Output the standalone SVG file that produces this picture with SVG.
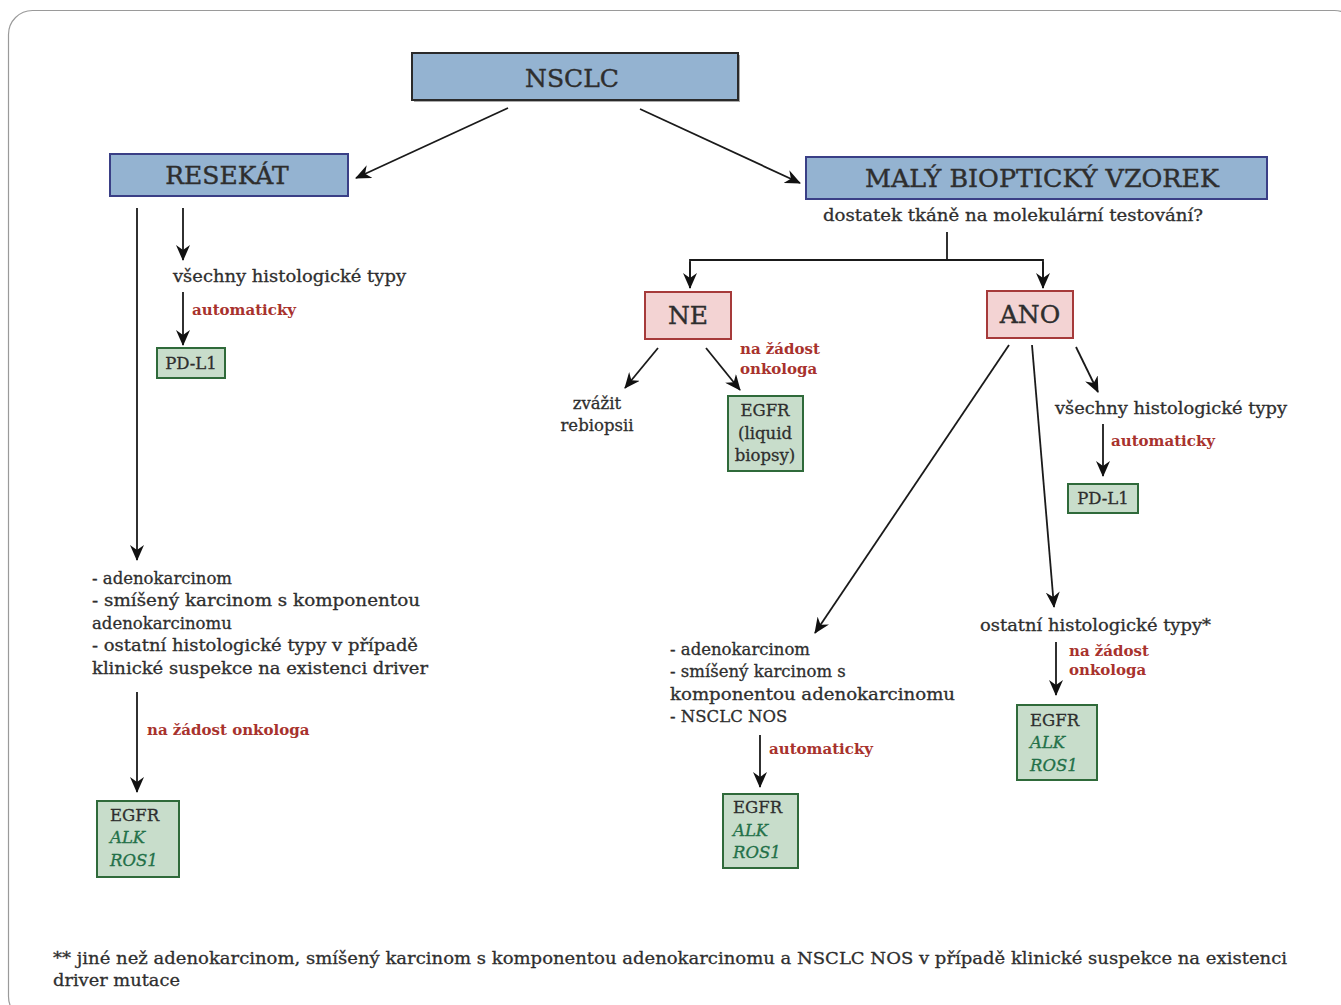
<svg xmlns="http://www.w3.org/2000/svg" width="1341" height="1005" viewBox="0 0 1341 1005">
<style>
text{font-family:"DejaVu Serif","Liberation Serif",serif;fill:#2e2e2e}
.t{font-size:16.5px;stroke:#2e2e2e;stroke-width:0.3}
.red{font-size:15px;fill:#a8322d;font-weight:bold}
.blue{fill:#94b3d1;stroke:#3a3f86;stroke-width:2}
.pink{fill:#f3d3d3;stroke:#a63a3a;stroke-width:2}
.green{fill:#c8ddcb;stroke:#2f6a3a;stroke-width:2}
.big{font-size:25px;stroke:#2e2e2e;stroke-width:0.4}
.gi{font-style:italic;fill:#237048;stroke:#237048}
.c line,.c path{stroke:#1a1a1a;stroke-width:1.8;fill:none}
</style>
<defs>
<marker id="ah" viewBox="0 0 16 14" refX="15" refY="7" markerWidth="16" markerHeight="14" markerUnits="userSpaceOnUse" orient="auto">
<path d="M0,0 L16,7 L0,14 L5,7 z" fill="#111"/>
</marker>
</defs>
<rect x="8.5" y="10.5" width="1350" height="1010" rx="24" fill="#fff" stroke="#9a9a9a" stroke-width="1.2"/>

<g class="c">
<line x1="508" y1="108" x2="356" y2="178" marker-end="url(#ah)"/>
<line x1="640" y1="109" x2="800" y2="183" marker-end="url(#ah)"/>
<line x1="137" y1="208" x2="137" y2="560" marker-end="url(#ah)"/>
<line x1="183" y1="208" x2="183" y2="260" marker-end="url(#ah)"/>
<line x1="183" y1="292" x2="183" y2="345" marker-end="url(#ah)"/>
<line x1="137" y1="692" x2="137" y2="792" marker-end="url(#ah)"/>
<line x1="947" y1="232" x2="947" y2="260"/>
<path d="M690,288 V260 H1043 V288"/>
<line x1="690" y1="262" x2="690" y2="288" marker-end="url(#ah)"/>
<line x1="1043" y1="262" x2="1043" y2="288" marker-end="url(#ah)"/>
<line x1="658" y1="348" x2="625" y2="388" marker-end="url(#ah)"/>
<line x1="706" y1="348" x2="740" y2="390" marker-end="url(#ah)"/>
<line x1="1009" y1="345" x2="815" y2="633" marker-end="url(#ah)"/>
<line x1="1032" y1="345" x2="1054" y2="607" marker-end="url(#ah)"/>
<line x1="1076" y1="347" x2="1098" y2="392" marker-end="url(#ah)"/>
<line x1="1103" y1="424" x2="1103" y2="476" marker-end="url(#ah)"/>
<line x1="1056" y1="642" x2="1056" y2="695" marker-end="url(#ah)"/>
<line x1="760" y1="735" x2="760" y2="787" marker-end="url(#ah)"/>
</g>

<g id="nsclc">
<rect x="414" y="55" width="326" height="47" fill="#555" opacity="0.5"/>
<rect x="412" y="53" width="326" height="47" fill="#94b3d1" stroke="#2a2a2a" stroke-width="2"/>
<text x="572" y="87" text-anchor="middle" class="big" font-size="28">NSCLC</text>
</g>
<g id="resekat">
<rect x="110" y="154" width="238" height="42" class="blue"/>
<text x="227" y="184" text-anchor="middle" class="big" font-size="26">RESEKÁT</text>
</g>
<g id="maly">
<rect x="806" y="157" width="461" height="42" class="blue"/>
<text x="1042" y="187" text-anchor="middle" class="big" textLength="354" lengthAdjust="spacingAndGlyphs">MALÝ BIOPTICKÝ VZOREK</text>
<text x="1013" y="221" text-anchor="middle" class="t" textLength="380" lengthAdjust="spacingAndGlyphs">dostatek tkáně na molekulární testování?</text>
</g>
<g id="res-all">
<text x="173" y="282" class="t" textLength="233" lengthAdjust="spacingAndGlyphs">všechny histologické typy</text>
<text x="192" y="315" class="red">automaticky</text>
</g>
<g id="res-pdl1">
<rect x="157" y="348" width="68" height="30" class="green"/>
<text x="191" y="369" text-anchor="middle" class="t">PD-L1</text>
</g>
<g id="res-types">
<text x="92" y="584" class="t">- adenokarcinom</text>
<text x="92" y="606" class="t" textLength="328" lengthAdjust="spacingAndGlyphs">- smíšený karcinom s komponentou</text>
<text x="92" y="629" class="t">adenokarcinomu</text>
<text x="92" y="651" class="t" textLength="326" lengthAdjust="spacingAndGlyphs">- ostatní histologické typy v případě</text>
<text x="92" y="674" class="t" textLength="336" lengthAdjust="spacingAndGlyphs">klinické suspekce na existenci driver</text>
<text x="147" y="735" class="red">na žádost onkologa</text>
</g>
<g id="res-egfr">
<rect x="97" y="801" width="82" height="76" class="green"/>
<text x="110" y="821" class="t">EGFR</text>
<text x="110" y="843" class="t gi">ALK</text>
<text x="110" y="866" class="t gi">ROS1</text>
</g>
<g id="ne">
<rect x="645" y="292" width="86" height="47" class="pink"/>
<text x="688" y="324" text-anchor="middle" class="big">NE</text>
<text x="740" y="354" class="red">na žádost</text>
<text x="740" y="374" class="red">onkologa</text>
</g>
<g id="rebiopsie">
<text x="597" y="409" text-anchor="middle" class="t">zvážit</text>
<text x="597" y="431" text-anchor="middle" class="t">rebiopsii</text>
</g>
<g id="ne-egfr">
<rect x="728" y="396" width="75" height="75" class="green"/>
<text x="765" y="416" text-anchor="middle" class="t">EGFR</text>
<text x="765" y="439" text-anchor="middle" class="t">(liquid</text>
<text x="765" y="461" text-anchor="middle" class="t">biopsy)</text>
</g>
<g id="ano">
<rect x="987" y="291" width="86" height="47" class="pink"/>
<text x="1030" y="323" text-anchor="middle" class="big">ANO</text>
</g>
<g id="ano-all">
<text x="1055" y="414" class="t" textLength="232" lengthAdjust="spacingAndGlyphs">všechny histologické typy</text>
<text x="1111" y="446" class="red">automaticky</text>
</g>
<g id="ano-pdl1">
<rect x="1068" y="484" width="70" height="29" class="green"/>
<text x="1103" y="504" text-anchor="middle" class="t">PD-L1</text>
</g>
<g id="ano-adeno">
<text x="670" y="655" class="t">- adenokarcinom</text>
<text x="670" y="677" class="t">- smíšený karcinom s</text>
<text x="670" y="700" class="t" textLength="285" lengthAdjust="spacingAndGlyphs">komponentou adenokarcinomu</text>
<text x="670" y="722" class="t">- NSCLC NOS</text>
<text x="769" y="754" class="red">automaticky</text>
</g>
<g id="ano-adeno-egfr">
<rect x="723" y="794" width="75" height="74" class="green"/>
<text x="733" y="813" class="t">EGFR</text>
<text x="733" y="836" class="t gi">ALK</text>
<text x="733" y="858" class="t gi">ROS1</text>
</g>
<g id="ano-other">
<text x="980" y="631" class="t" textLength="231" lengthAdjust="spacingAndGlyphs">ostatní histologické typy*</text>
<text x="1069" y="656" class="red">na žádost</text>
<text x="1069" y="675" class="red">onkologa</text>
</g>
<g id="ano-other-egfr">
<rect x="1017" y="705" width="80" height="75" class="green"/>
<text x="1030" y="726" class="t">EGFR</text>
<text x="1030" y="748" class="t gi">ALK</text>
<text x="1030" y="771" class="t gi">ROS1</text>
</g>
<g id="footer">
<text x="53" y="964" font-size="17.5" stroke="#2e2e2e" stroke-width="0.3" textLength="1234" lengthAdjust="spacingAndGlyphs">** jiné než adenokarcinom, smíšený karcinom s komponentou adenokarcinomu a NSCLC NOS v případě klinické suspekce na existenci</text>
<text x="53" y="986" font-size="17.5" stroke="#2e2e2e" stroke-width="0.3" textLength="127" lengthAdjust="spacingAndGlyphs">driver mutace</text>
</g>
</svg>
